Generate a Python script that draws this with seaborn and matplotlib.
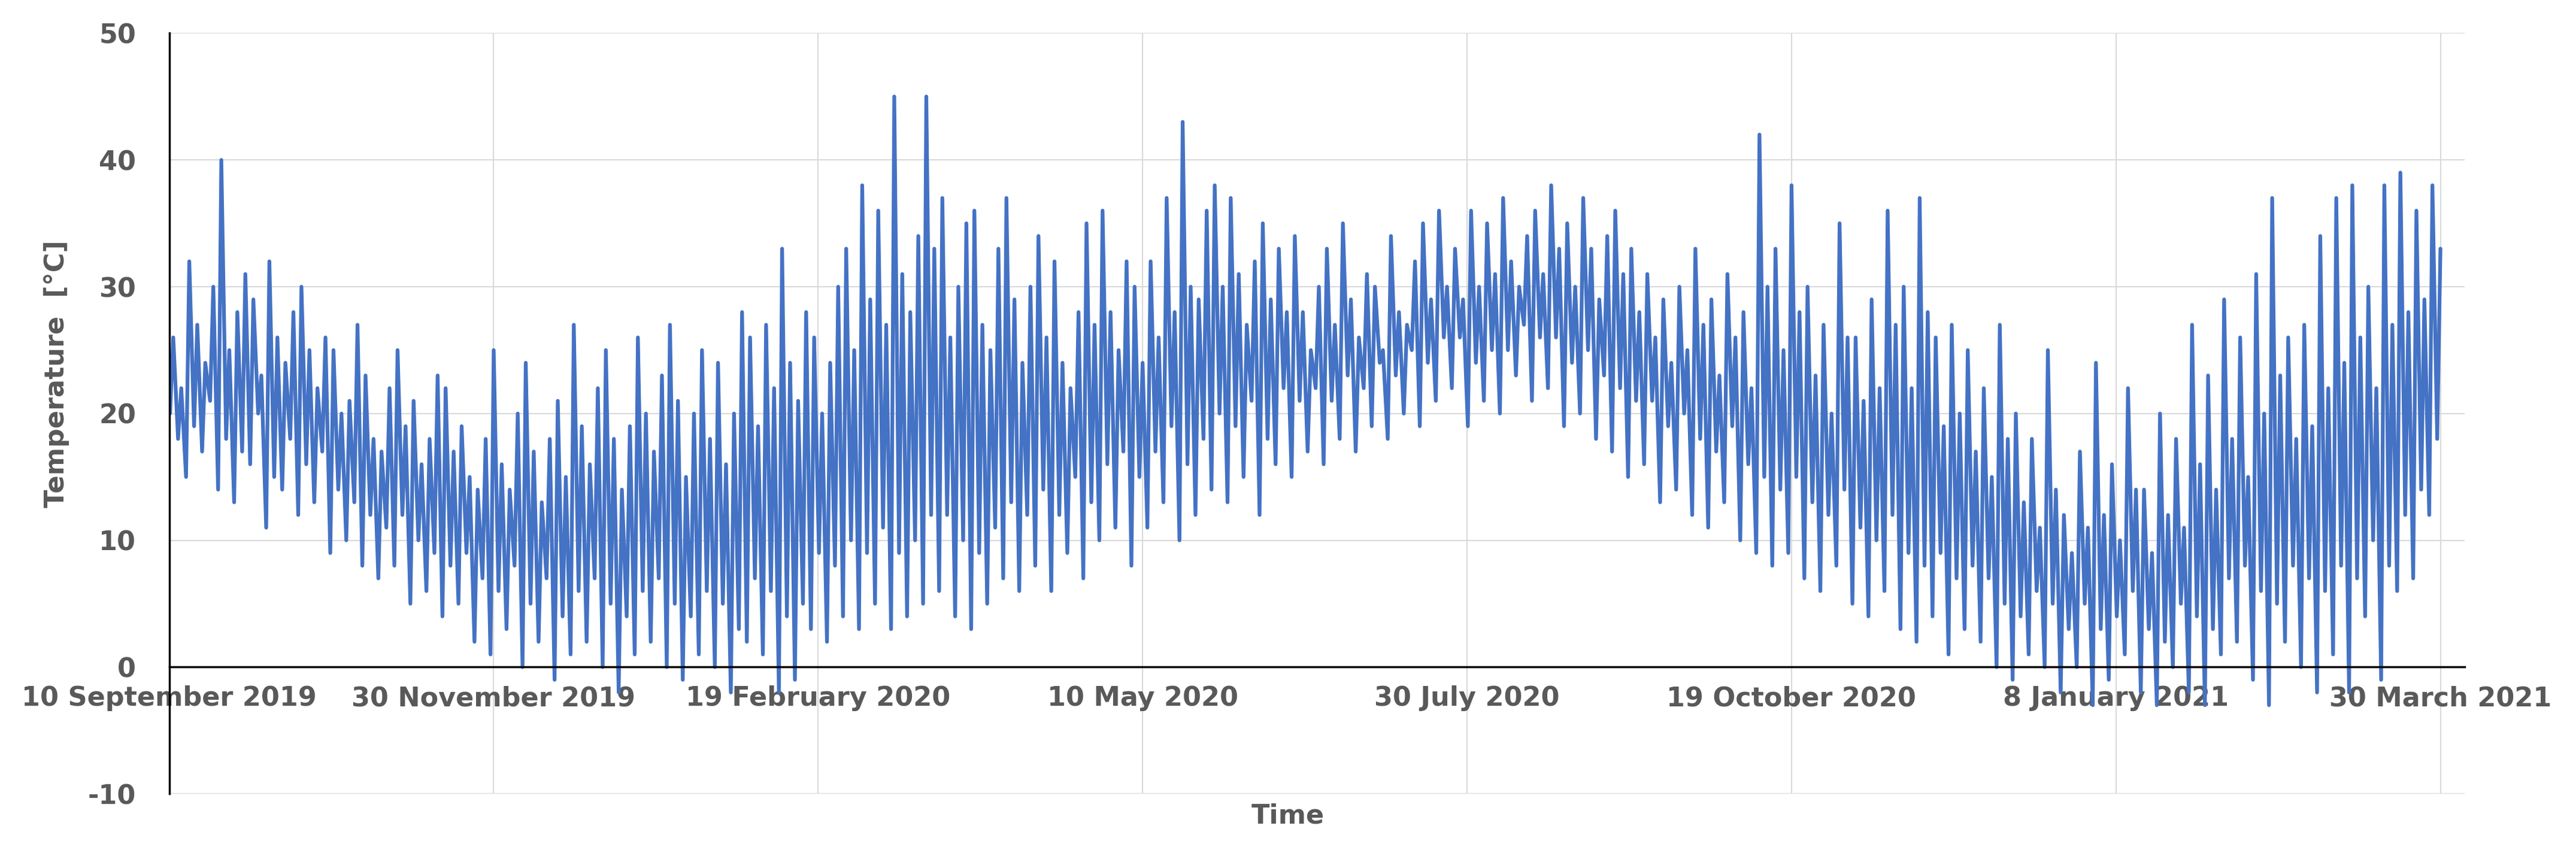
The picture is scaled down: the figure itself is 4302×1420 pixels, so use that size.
import numpy as np
import pandas as pd
import matplotlib
matplotlib.use("Agg")
import matplotlib.pyplot as plt
import seaborn as sns

start_date = "2019-09-10"
period_days = 2
highs = [26,22, 32,27, 24,30, 40,25, 28,31, 29,23, 32,26, 24,28, 30,25, 22,26,
         25,20, 21,27, 23,18, 17,22, 25,19, 21,16, 18,23, 22,17, 19,15, 14,18,
         25,16, 14,20, 24,17, 13,18, 21,15, 27,19, 16,22, 25,18, 14,19, 26,20,
         17,23, 27,21, 15,20, 25,18, 24,16, 20,28, 26,19, 27,22, 33,24, 21,28,
         26,20, 24,30, 33,25, 38,29, 36,27, 45,31, 28,34, 45,33, 37,26, 30,35,
         36,27, 25,33, 37,29, 24,30, 34,26, 32,24, 22,28, 35,27, 36,28, 25,32,
         30,24, 32,26, 37,28, 43,30, 29,36, 38,30, 37,31, 27,32, 35,29, 33,28,
         34,28, 25,30, 33,27, 35,29, 26,31, 30,25, 34,28, 27,32, 35,29, 36,30,
         33,29, 36,30, 35,31, 37,32, 30,34, 36,31, 38,33, 35,30, 37,33, 29,34,
         36,31, 33,28, 31,26, 29,24, 30,25, 33,27, 29,23, 31,26, 28,22, 42,30,
         33,25, 38,28, 30,23, 27,20, 35,26, 26,21, 29,22, 36,27, 30,22, 37,28,
         26,19, 27,20, 25,17, 22,15, 27,18, 20,13, 18,11, 25,14, 12,9, 17,11,
         24,12, 16,10, 22,14, 14,9, 20,12, 18,11, 27,16, 23,14, 29,18, 26,15,
         31,20, 37,23, 26,18, 27,19, 34,22, 37,24, 38,26, 30,22, 38,27, 39,28,
         36,29, 38,33]
lows = [20,18, 15,19, 17,21, 14,18, 13,17, 16,20, 11,15, 14,18, 12,16, 13,17,
        9,14, 10,13, 8,12, 7,11, 8,12, 5,10, 6,9, 4,8, 5,9, 2,7,
        1,6, 3,8, 0,5, 2,7, -1,4, 1,6, 2,7, 0,5, -2,4, 1,6,
        2,7, 0,5, -1,4, 1,6, 0,5, -2,3, 2,7, 1,6, -2,4, -1,5,
        3,9, 2,8, 4,10, 3,9, 5,11, 3,9, 4,10, 5,12, 6,12, 4,10,
        3,9, 5,11, 7,13, 6,12, 8,14, 6,12, 9,15, 7,13, 10,16, 11,17,
        8,15, 11,17, 13,19, 10,16, 12,18, 14,20, 13,19, 15,21, 12,18, 16,22,
        15,21, 17,22, 16,21, 18,23, 17,22, 19,24, 18,23, 20,25, 19,24, 21,26,
        22,26, 19,24, 21,25, 20,25, 23,27, 21,26, 22,26, 19,24, 20,25, 18,23,
        17,22, 15,21, 16,21, 13,19, 14,20, 12,18, 11,17, 13,19, 10,16, 9,15,
        8,14, 9,15, 7,13, 6,12, 8,14, 5,11, 4,10, 6,12, 3,9, 2,8,
        4,9, 1,7, 3,8, 2,7, 0,5, -1,4, 1,6, 0,5, -2,3, 0,5,
        -3,3, -1,4, 1,6, -2,3, -3,2, 0,5, -2,4, -3,3, 1,7, 2,8,
        -1,6, -3,5, 2,8, 0,7, -2,6, 1,8, -2,7, 4,10, -1,8, 6,12,
        7,14, 12,18]
tick_labels = ["10 September 2019", "30 November 2019", "19 February 2020", "10 May 2020",
               "30 July 2020", "19 October 2020", "8 January 2021", "30 March 2021"]
tick_dates = ["2019-09-10", "2019-11-30", "2020-02-19", "2020-05-10",
              "2020-07-30", "2020-10-19", "2021-01-08", "2021-03-30"]

t0 = pd.Timestamp(start_date)
times, temps = [], []
for i, (lo, hi) in enumerate(zip(lows, highs)):
    times.append(t0 + pd.Timedelta(days=i * period_days + 0.2))
    temps.append(lo)
    times.append(t0 + pd.Timedelta(days=i * period_days + 1.0))
    temps.append(hi)
df = pd.DataFrame({"Time": times, "Temperature": temps})

sns.set_theme(style="white")
plt.rcParams['font.family'] = ['DejaVu Sans']
plt.rcParams['axes.unicode_minus'] = False
fig = plt.figure(figsize=(43.02, 14.20), dpi=100)
ax = fig.add_axes([0.0657, 0.066, 0.891, 0.895])
sns.lineplot(data=df, x="Time", y="Temperature", ax=ax, color="#4472C4", linewidth=4.5)

ax.set_ylim(-10, 50)
ax.set_yticks(range(-10, 51, 10))
ax.set_xlim(pd.Timestamp("2019-09-10"), pd.Timestamp("2021-04-05"))
ax.set_xticks(pd.to_datetime(tick_dates))
ax.set_xticklabels(tick_labels)
ax.grid(True, color="#D9D9D9", linewidth=1.5)
ax.set_axisbelow(True)
for s in ["top", "right"]:
    ax.spines[s].set_visible(False)
ax.spines["bottom"].set_position(("data", 0))
ax.spines["bottom"].set_color("black")
ax.spines["bottom"].set_linewidth(2.5)
ax.spines["bottom"].set_zorder(5)
ax.spines["left"].set_color("black")
ax.spines["left"].set_linewidth(2.5)
ax.tick_params(axis="x", length=0, labelsize=32, labelcolor="#595959", pad=22)
ax.tick_params(axis="y", length=0, labelsize=32, labelcolor="#595959", pad=40)
for lab in ax.get_xticklabels() + ax.get_yticklabels():
    lab.set_fontweight("bold")
ax.set_xlabel("")
ax.set_ylabel("")
fig.text(0.5, 0.04, "Time", ha="center", va="center", fontsize=32, fontweight="bold", color="#595959")
fig.text(0.022, 0.56, "Temperature  [°C]", ha="center", va="center", rotation=90,
         fontsize=32, fontweight="bold", color="#595959")
fig.savefig("out.png", dpi=100, facecolor="white")
